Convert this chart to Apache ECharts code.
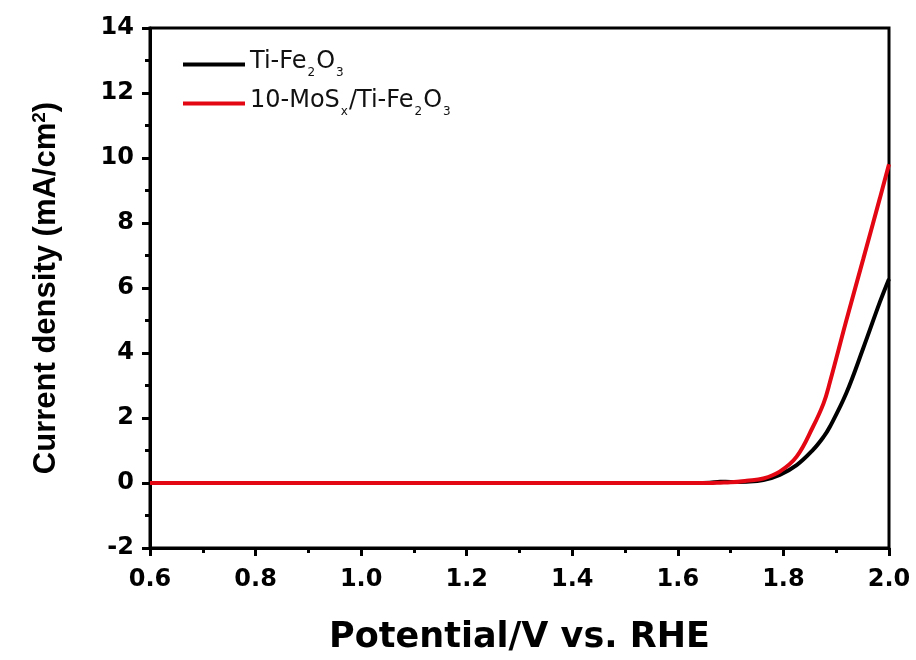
<!DOCTYPE html>
<html><head><meta charset="utf-8">
<script src="https://cdn.jsdelivr.net/npm/echarts@6/dist/echarts.min.js"></script>
<style>html,body{margin:0;padding:0;background:#fff}#c{width:916px;height:660px}</style>
</head><body><div id="c"></div>
<script>
var potential = [0.6, 0.8, 1.0, 1.2, 1.4, 1.6, 1.66, 1.68, 1.70, 1.73, 1.762, 1.793, 1.825, 1.856, 1.876, 1.888, 1.919, 1.951, 1.983, 2.0];
var tiFe2O3   = [0, 0, 0, 0, 0, 0, 0.01, 0.04, 0.03, 0.04, 0.09, 0.25, 0.55, 1.02, 1.42, 1.73, 2.76, 4.14, 5.58, 6.28];
var mosx      = [0, 0, 0, 0, 0, 0, 0.0, 0.01, 0.02, 0.07, 0.14, 0.35, 0.81, 1.73, 2.45, 3.1, 4.99, 6.88, 8.78, 9.81];
var seriesNames = ['Ti-Fe2O3', '10-MoSx/Ti-Fe2O3'];
var legendLabels = ['{n|Ti-Fe}{s|2}{n|O}{s|3}', '{n|10-MoS}{s|x}{n|/Ti-Fe}{s|2}{n|O}{s|3}'];
var xTitle = 'Potential/V vs. RHE';
var yTitle = 'Current density (mA/cm{sup|2})';

function pairs(xs, ys){ return xs.map(function(x,i){ return [x, ys[i]]; }); }

var chart = echarts.init(document.getElementById('c'));
var tickFont = {color:'#000', fontFamily:'DejaVu Sans', fontWeight:'bold', fontSize:24};
chart.setOption({
  animation:false,
  grid:{left:150, right:27, top:28, bottom:112, show:true, borderColor:'#000', borderWidth:3},
  legend:{
    left:183, top:50, padding:0, orient:'vertical', itemGap:10, itemWidth:62, itemHeight:4, icon:'rect',
    data:seriesNames,
    formatter:function(name){ return legendLabels[seriesNames.indexOf(name)]; },
    textStyle:{color:'#111', fontFamily:'DejaVu Sans', fontSize:24,
      rich:{
        n:{fontSize:24, color:'#111', fontFamily:'DejaVu Sans', verticalAlign:'bottom', padding:[0,0,5,0]},
        s:{fontSize:12, color:'#111', fontFamily:'DejaVu Sans', verticalAlign:'bottom', padding:[0,1,0,1]}
      }}
  },
  xAxis:{type:'value', min:0.6, max:2.0, interval:0.2,
    name:xTitle, nameLocation:'middle', nameGap:72,
    nameTextStyle:{color:'#000', fontFamily:'DejaVu Sans', fontWeight:'bold', fontSize:35},
    axisLine:{onZero:false, lineStyle:{color:'#000', width:3}},
    axisTick:{inside:false, length:8, lineStyle:{color:'#000', width:3}},
    minorTick:{show:true, splitNumber:2, length:5, lineStyle:{color:'#000', width:3}},
    splitLine:{show:false},
    axisLabel:Object.assign({margin:20, formatter:function(v){return v.toFixed(1);}}, tickFont)
  },
  yAxis:{type:'value', min:-2, max:14, interval:2,
    name:yTitle, nameLocation:'middle', nameGap:87, nameRotate:90,
    nameTextStyle:{color:'#000', fontFamily:'Liberation Sans, Arial', fontWeight:'bold', fontSize:31,
      rich:{sup:{fontSize:19, fontWeight:'bold', color:'#000', fontFamily:'Liberation Sans, Arial', padding:[0,0,14,0]}}},
    axisLine:{lineStyle:{color:'#000', width:3}},
    axisTick:{inside:false, length:8, lineStyle:{color:'#000', width:3}},
    minorTick:{show:true, splitNumber:2, length:5, lineStyle:{color:'#000', width:3}},
    splitLine:{show:false},
    axisLabel:Object.assign({margin:16}, tickFont)
  },
  series:[
    {name:seriesNames[0], type:'line', data:pairs(potential, tiFe2O3), smooth:0.4, showSymbol:false,
     color:'#000', lineStyle:{color:'#000', width:4}},
    {name:seriesNames[1], type:'line', data:pairs(potential, mosx), smooth:0.4, showSymbol:false,
     color:'#e30613', lineStyle:{color:'#e30613', width:4}}
  ]
});
</script></body></html>
